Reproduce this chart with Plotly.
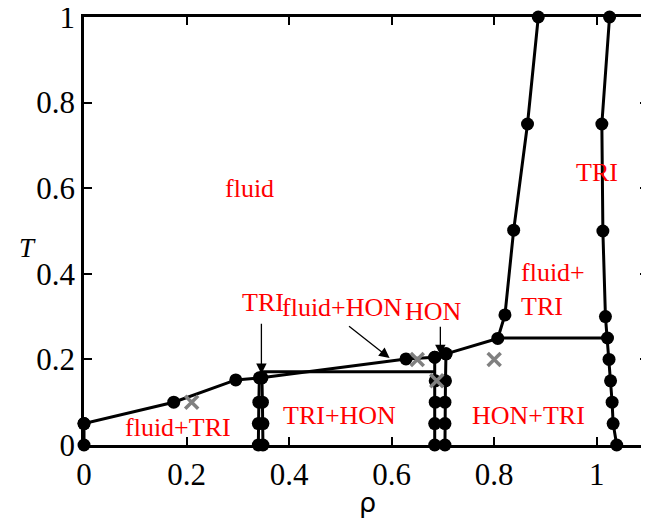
import plotly.graph_objects as go

# --- data ---
fluid_rho = [0.0, 0.175, 0.296, 0.346, 0.628, 0.684, 0.706, 0.807, 0.821, 0.838, 0.865, 0.886]
fluid_T   = [0.05, 0.10, 0.152, 0.157, 0.201, 0.205, 0.213, 0.249, 0.304, 0.502, 0.75, 1.0]

axis_rho = [0.0, 0.0]
axis_T   = [0.0, 0.05]

tri_right_rho = [1.039, 1.032, 1.030, 1.027, 1.024, 1.021, 1.017, 1.012, 1.010, 1.025]
tri_right_T   = [0.0, 0.05, 0.10, 0.15, 0.20, 0.25, 0.30, 0.50, 0.75, 1.0]

triA_rho = [0.340, 0.340, 0.341, 0.342]
triB_rho = [0.349, 0.349, 0.348, 0.347]
tri_col_T = [0.0, 0.05, 0.10, 0.157]

honA_rho = [0.684, 0.684, 0.685, 0.685, 0.684]
honA_T   = [0.0, 0.05, 0.10, 0.15, 0.205]
honB_rho = [0.704, 0.704, 0.704, 0.705, 0.706]
honB_T   = [0.0, 0.05, 0.10, 0.15, 0.213]

tie1_rho = [0.807, 1.021]
tie1_T   = [0.25, 0.25]
tie2_rho = [0.346, 0.684]
tie2_T   = [0.171, 0.171]

cross_rho = [0.21, 0.65, 0.688, 0.80]
cross_T   = [0.10, 0.20, 0.15, 0.20]

labels = ["fluid", "TRI", "fluid+HON", "HON", "fluid+<br>TRI", "TRI", "fluid+TRI", "TRI+HON", "HON+TRI"]
label_rho = [0.323, 0.350, 0.503, 0.682, 0.849, 1.0, 0.183, 0.498, 0.867]
label_T   = [0.60, 0.332, 0.322, 0.313, 0.364, 0.636, 0.04, 0.07, 0.07]
label_align = ["center", "center", "center", "center", "left", "center", "center", "center", "center"]

arrow_tail_rho = [0.346, 0.514, 0.695]
arrow_tail_T   = [0.287, 0.280, 0.280]
arrow_head_rho = [0.346, 0.596, 0.695]
arrow_head_T   = [0.166, 0.203, 0.210]

x_ticks = [0, 0.2, 0.4, 0.6, 0.8, 1]
x_ticklabels = ["0", "0.2", "0.4", "0.6", "0.8", "1"]
y_ticks = [0, 0.2, 0.4, 0.6, 0.8, 1]
y_ticklabels = ["0", "0.2", "0.4", "0.6", "0.8", "1"]

fig = go.Figure()
line_style = dict(color="black", width=3)
mk = dict(color="black", size=13)

def add_series(xs, ys, markers=True):
    fig.add_trace(go.Scatter(x=xs, y=ys, mode="lines+markers" if markers else "lines",
                             line=line_style, marker=mk, showlegend=False, cliponaxis=False))

add_series(tie1_rho, tie1_T, markers=False)
add_series(tie2_rho, tie2_T, markers=False)
add_series(axis_rho, axis_T)
add_series(fluid_rho, fluid_T)
add_series(tri_right_rho, tri_right_T)
add_series(triA_rho, tri_col_T)
add_series(triB_rho, tri_col_T)
add_series(honA_rho, honA_T)
add_series(honB_rho, honB_T)

fig.add_trace(go.Scatter(x=cross_rho, y=cross_T, mode="markers",
                         marker=dict(symbol="x-thin", size=13, line=dict(color="#808080", width=3.5)),
                         showlegend=False))

serif = "Liberation Serif, Times New Roman, serif"
for t, x, y, al in zip(labels, label_rho, label_T, label_align):
    fig.add_annotation(x=x, y=y, text=t, showarrow=False, align=al,
                       xanchor="left" if al == "left" else "center",
                       font=dict(family=serif, size=26, color="red"))

for tx, ty, hx, hy in zip(arrow_tail_rho, arrow_tail_T, arrow_head_rho, arrow_head_T):
    fig.add_annotation(x=hx, y=hy, ax=tx, ay=ty, xref="x", yref="y", axref="x", ayref="y",
                       text="", showarrow=True, arrowhead=2, arrowsize=1.6, arrowwidth=1.3,
                       arrowcolor="black", standoff=0)

fig.add_annotation(xref="paper", yref="paper", x=-0.118, y=0.46, text="<i>T</i>", showarrow=False,
                   font=dict(family=serif, size=27, color="black"))
fig.add_annotation(xref="paper", yref="paper", x=0.502, y=-0.094, yanchor="top", text="ρ",
                   showarrow=False, font=dict(family="DejaVu Sans", size=27, color="black"))

axis_common = dict(showline=True, linecolor="black", linewidth=2.5, mirror="ticks",
                   ticks="inside", ticklen=8, tickwidth=2, tickcolor="black",
                   showgrid=False, zeroline=False, automargin=False,
                   ticklabeloverflow="allow",
                   tickfont=dict(family=serif, size=31, color="black"))
fig.update_xaxes(range=[0, 1.1], tickvals=x_ticks, ticktext=x_ticklabels, **axis_common)
fig.update_yaxes(range=[0, 1], tickvals=y_ticks, ticktext=y_ticklabels, **axis_common)

# page body has an 8px margin, so the figure is slightly smaller and shifted
fig.update_layout(width=641, height=514, margin=dict(l=76, r=1, t=9, b=77),
                  plot_bgcolor="white", paper_bgcolor="white")
fig.write_html("out.html")
